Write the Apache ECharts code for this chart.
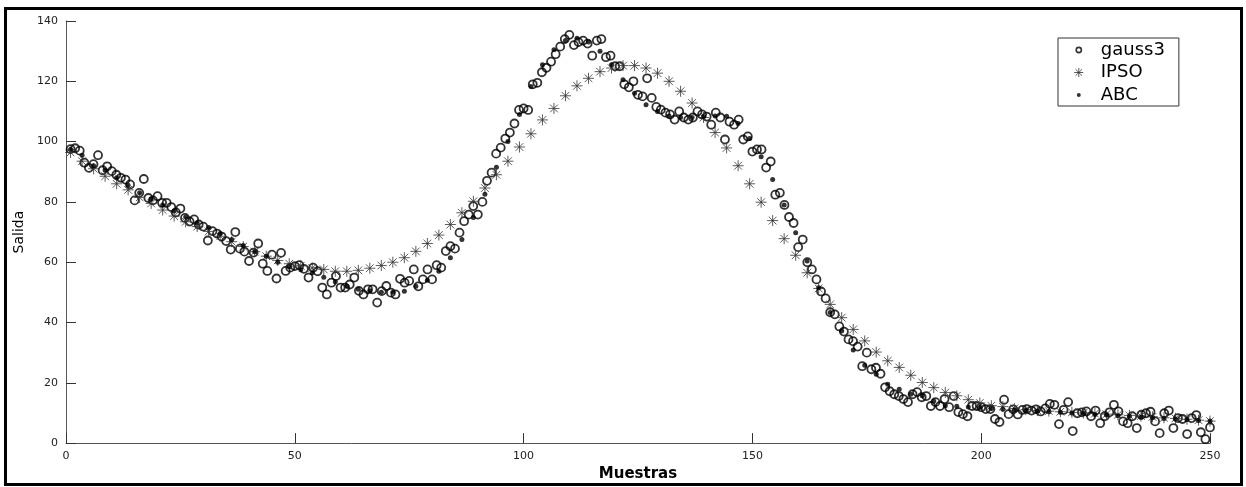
<!DOCTYPE html>
<html>
<head>
<meta charset="utf-8">
<title>Salida vs Muestras</title>
<script src="https://cdn.jsdelivr.net/npm/echarts@6/dist/echarts.min.js"></script>
<style>
  html, body { margin: 0; padding: 0; background: #fff; }
  #chart { width: 1246px; height: 487px; }
</style>
</head>
<body>
<div id="chart"></div>
<script>
// gauss3: one measured value per sample (1..250)
const gauss3 = [
  97.5, 97.8, 97, 93, 91.3, 92.5, 95.5, 90.5, 91.8, 90.2,
  89, 88, 87.4, 85.8, 80.5, 83, 87.6, 81.3, 80.5, 81.9,
  79.7, 79.7, 78.3, 76.5, 77.8, 74.7, 73.5, 74.2, 72.5, 71.8,
  67.2, 70.3, 69.5, 68.5, 67, 64.2, 70, 64.5, 63.5, 60.4,
  63.2, 66.2, 59.5, 57.1, 62.5, 54.6, 63.1, 57.1, 58.2, 58.7,
  59, 57.8, 54.9, 58.2, 57, 51.6, 49.3, 53.2, 55.4, 51.6,
  51.6, 52.6, 54.9, 50.5, 49.3, 51, 51, 46.6, 50.4, 52.1,
  49.9, 49.3, 54.5, 53.2, 53.8, 57.6, 52, 54.3, 57.6, 54.3,
  59, 58.2, 63.7, 65.3, 64.5, 69.8, 73.6, 75.8, 78.6, 75.8,
  80, 87, 89.7, 96, 98, 101, 103, 106, 110.5, 111,
  110.5, 119, 119.5, 123, 124.5, 126.5, 129, 131.5, 134, 135.4,
  132, 133, 133.5, 132.5, 128.5, 133.5, 134, 128, 128.5, 125,
  125, 119, 118, 120, 115.5, 115, 121, 114.5, 111.5, 110.6,
  109.6, 109, 107.3, 110, 108, 107.3, 108, 110, 109, 108.3,
  105.6, 109.6, 108, 100.7, 106.6, 105.6, 107.3, 100.7, 101.7, 96.7,
  97.4, 97.4, 91.4, 93.4, 82.4, 83, 79, 75, 73, 65,
  67.5, 60, 57.6, 54.3, 50.3, 48, 43.4, 42.7, 38.7, 37,
  34.4, 33.8, 32, 25.5, 30, 24.5, 25, 23, 18.5, 17.2,
  16.2, 15.6, 14.6, 13.6, 16.2, 16.9, 15.2, 15.6, 12.3, 13.6,
  12.3, 14.6, 11.9, 15.6, 10.3, 9.6, 8.9, 12.3, 12.3, 11.9,
  11.3, 11.3, 8, 7, 14.4, 9.6, 11.2, 9.5, 11, 11.3,
  10.8, 11.2, 10.5, 11.5, 13, 12.7, 6.3, 11, 13.6, 4,
  9.9, 10.2, 10.5, 8.9, 10.8, 6.6, 8.9, 10.2, 12.7, 10.5,
  7.2, 6.6, 8.9, 5, 9.4, 9.9, 10.4, 7.2, 3.3, 9.9,
  10.8, 5, 8.3, 8, 3, 8.3, 9.3, 3.6, 1.3, 5.2
];

// IPSO and ABC: 100 model outputs spread evenly from sample 1 to 250
const ipso = [
  96.4, 93.5, 91, 88.5, 86, 84, 81.5, 79.5, 77.3, 75.3,
  73.4, 71.8, 70.2, 68.6, 66.8, 65.2, 63.5, 62, 60.6, 59.5,
  58.8, 58.1, 57.6, 57, 57, 57.3, 58, 58.9, 60, 61.5,
  63.6, 66.2, 69, 72.5, 76.4, 80.2, 84.6, 89, 93.5, 98.2,
  102.6, 107.2, 111, 115.2, 118.5, 121, 123.2, 124.4, 125.2, 125.2,
  124.4, 122.7, 120, 116.7, 112.8, 108, 103, 97.9, 92, 86,
  79.9, 73.8, 67.8, 62.3, 56.5, 51.3, 46, 41.6, 37.7, 33.9,
  30.2, 27.3, 25.1, 22.5, 20.1, 18.4, 16.8, 15.7, 14.4, 13.3,
  12.4, 12.1, 11.5, 11.1, 10.8, 10.6, 10.4, 10.2, 10, 9.8,
  9.6, 9.4, 9.2, 9, 8.7, 8.4, 8.2, 7.9, 7.6, 7.3
];

const abc = [
  97.5, 95.5, 92, 90.5, 88, 85.5, 83, 81, 79, 77,
  75, 73, 71.5, 69.5, 67.5, 65.5, 63.5, 62, 60, 58.5,
  57.5, 56.5, 55, 53.5, 52, 51, 50.5, 50, 50, 50.4,
  52, 54, 57, 61.5, 67.5, 74.8, 82.5, 91.5, 100, 109,
  118.3, 125.5, 130.5, 133.5, 134.3, 133, 130, 125.5, 120.5, 116,
  112.2, 110, 108.5, 108, 108, 108.3, 108.5, 108.4, 106, 101,
  95, 87.4, 79, 69.8, 60.4, 51.5, 43.3, 37.2, 30.9, 25.8,
  22.8, 19.5, 17.9, 16.2, 15.7, 14, 12.4, 12.2, 12, 11.8,
  11.5, 11.2, 11, 10.8, 10.6, 10.4, 10.2, 10, 9.8, 9.5,
  9.3, 9.1, 8.9, 8.6, 8.4, 8.2, 8, 7.8, 7.5, 7.3
];

const xTicks = { min: 0, max: 250, interval: 50 };
const yTicks = { min: 0, max: 140, interval: 20 };

const toSamplePoints = arr => arr.map((v, i) => [i + 1, v]);
const toSpreadPoints = arr => arr.map((v, i) => [1 + i * 249 / (arr.length - 1), v]);

const asterisk = 'path://M0,5L10,5M5,0L5,10M1.5,1.5L8.5,8.5M1.5,8.5L8.5,1.5';
// legend icons: small marks inside a fixed 14x14 box (the bare moves set the box)
const legendRing = 'path://M0,0M14,14M9.6,7A2.6,2.6,0,1,1,4.4,7A2.6,2.6,0,1,1,9.6,7Z';
const legendStar = 'path://M0,0M14,14M2.5,7L11.5,7M7,2.5L7,11.5M3.8,3.8L10.2,10.2M3.8,10.2L10.2,3.8';
const legendDot = 'path://M0,0M14,14M9,7A2,2,0,1,1,5,7A2,2,0,1,1,9,7Z';
const font = 'DejaVu Sans, Liberation Sans, Arial, sans-serif';

const chart = echarts.init(document.getElementById('chart'));

const axisCommon = {
  type: 'value',
  splitLine: { show: false },
  axisLine: { show: true, lineStyle: { color: '#555', width: 1 } },
  axisTick: { show: true, inside: true, length: 10, lineStyle: { color: '#333' } },
  axisLabel: { color: '#222', fontSize: 11, fontFamily: font },
  nameTextStyle: { color: '#000', fontFamily: font }
};

chart.setOption({
  animation: false,
  backgroundColor: '#fff',
  grid: { left: 66, right: 36, top: 21, bottom: 43 },
  graphic: [{
    type: 'rect',
    shape: { x: 5.5, y: 8.5, width: 1236, height: 476 },
    style: { fill: 'none', stroke: '#000', lineWidth: 3 },
    silent: true
  }],
  legend: {
    orient: 'vertical',
    left: 1058,
    top: 38,
    padding: [3, 14, 2, 13],
    itemWidth: 34,
    itemHeight: 14,
    itemGap: 4.5,
    borderColor: '#333',
    borderWidth: 1,
    backgroundColor: '#fff',
    textStyle: { color: '#000', fontSize: 18, fontFamily: font },
    data: [
      { name: 'gauss3', icon: legendRing, itemStyle: { color: 'rgba(0,0,0,0)', borderColor: '#000', borderWidth: 1.6 } },
      { name: 'IPSO', icon: legendStar, itemStyle: { color: 'rgba(0,0,0,0)', borderColor: '#333', borderWidth: 1 } },
      { name: 'ABC', icon: legendDot, itemStyle: { color: '#000', borderWidth: 0 } }
    ]
  },
  xAxis: Object.assign({}, axisCommon, xTicks, {
    name: 'Muestras',
    nameLocation: 'middle',
    nameGap: 17,
    nameTextStyle: { color: '#000', fontFamily: font, fontSize: 15, fontWeight: 'bold' }
  }),
  yAxis: Object.assign({}, axisCommon, yTicks, {
    name: 'Salida',
    nameLocation: 'middle',
    nameRotate: 90,
    nameGap: 38,
    nameTextStyle: { color: '#000', fontFamily: font, fontSize: 14 }
  }),
  series: [
    {
      name: 'gauss3',
      type: 'scatter',
      symbol: 'circle',
      symbolSize: 8,
      itemStyle: { color: 'rgba(0,0,0,0)', borderColor: '#000', borderWidth: 1.8 },
      data: toSamplePoints(gauss3)
    },
    {
      name: 'IPSO',
      type: 'scatter',
      symbol: asterisk,
      symbolSize: 11,
      itemStyle: { color: 'rgba(0,0,0,0)', borderColor: '#333', borderWidth: 1 },
      data: toSpreadPoints(ipso)
    },
    {
      name: 'ABC',
      type: 'scatter',
      symbol: 'circle',
      symbolSize: 5,
      itemStyle: { color: '#000' },
      data: toSpreadPoints(abc)
    }
  ]
});
</script>
</body>
</html>
